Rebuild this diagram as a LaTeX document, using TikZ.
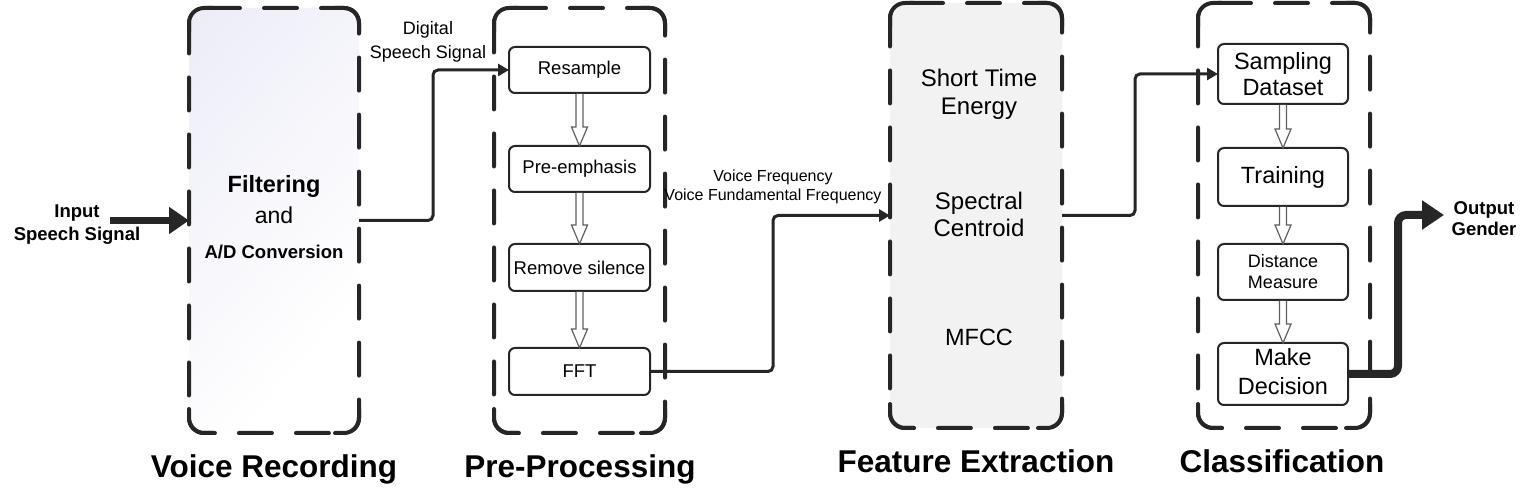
\documentclass[tikz,border=0pt]{standalone}
\usepackage{fontspec}
\setmainfont{Liberation Sans}
\usetikzlibrary{arrows.meta,calc}
\pgfdeclarelayer{background}
\pgfsetlayers{background,main}
\definecolor{ink}{HTML}{262626}
\definecolor{lav}{HTML}{E6E6F5}
\definecolor{featgray}{HTML}{F2F2F2}
\definecolor{hol}{HTML}{606060}
\newcommand{\fs}[1]{\fontsize{#1}{#1}\selectfont}
\newcommand{\hollowarrow}[2]{%
  \draw[hollow] ($(#1.south)+(-3.5,1)$) -- ($(#2.north)+(-3.5,-19)$) -- ($(#2.north)+(-8,-19)$) -- (#2.north) -- ($(#2.north)+(8,-19)$) -- ($(#2.north)+(3.5,-19)$) -- ($(#1.south)+(3.5,1)$);}
\newcommand{\solidcorners}[1]{%
  \draw[cornerpiece] ($(#1.north west)+(0,24)$) -- (#1.north west) -- ($(#1.north west)+(24,0)$);
  \draw[cornerpiece] ($(#1.north east)+(0,24)$) -- (#1.north east) -- ($(#1.north east)+(-24,0)$);
  \draw[cornerpiece] ($(#1.south west)+(0,-24)$) -- (#1.south west) -- ($(#1.south west)+(24,0)$);
  \draw[cornerpiece] ($(#1.south east)+(0,-24)$) -- (#1.south east) -- ($(#1.south east)+(-24,0)$);}
\begin{document}
\begin{tikzpicture}[x=1pt,y=-1pt,
  container/.style={draw=ink, line width=4pt, rounded corners=15pt, dash pattern=on 33pt off 24pt, dash phase=10pt, line cap=round, inner sep=0pt, outer sep=0pt},
  cornerpiece/.style={draw=ink, line width=4pt, rounded corners=15pt, line cap=round},
  stepbox/.style={draw=ink, line width=2pt, rounded corners=6pt, fill=white, inner sep=0pt, outer sep=0pt, align=center},
  hollow/.style={draw=hol, line width=1.2pt, fill=white, line join=miter},
  conn/.style={draw=ink, line width=3pt, rounded corners=5pt, -{Triangle[length=11pt,width=12pt]}},
  heading/.style={font=\bfseries\fs{31.5}, anchor=base},
]
\useasboundingbox (0,0) rectangle (1529,502);

% containers
\node[container, minimum width=170, minimum height=425] (vr) at (274,220.5) {};
\begin{pgfonlayer}{background}
  \begin{scope}
    \clip[rounded corners=15pt] (vr.north west) rectangle (vr.south east);
    \begin{scope}[transform canvas={rotate around={49.6:(vr.north west)}}]
      \shade[top color=lav, bottom color=white] ($(vr.north west)+(-500,-104)$) rectangle ($(vr.north west)+(500,320)$);
    \end{scope}
  \end{scope}
\end{pgfonlayer}
\node[container, minimum width=171, minimum height=425] (pp) at (579.5,220.5) {};
\node[container, fill=featgray, minimum width=172, minimum height=425] (fe) at (976,215.5) {};
\node[container, minimum width=172, minimum height=425] (cl) at (1284,215.5) {};
\solidcorners{vr}
\solidcorners{pp}
\solidcorners{fe}
\solidcorners{cl}

% voice recording text
\node[font=\bfseries\fs{23.5}] (vr1) at (274,186) {Filtering};
\node[font=\fs{23}] (vr2) at (274,215) {and};
\node[font=\bfseries\fs{18.5}] (vr3) at (274,252) {A/D Conversion};

% pre-processing steps
\node[stepbox, minimum width=141, minimum height=46, font=\fs{18.5}] (res) at (579.5,70) {Resample};
\node[stepbox, minimum width=141, minimum height=46, font=\fs{18.5}] (pre) at (579.5,169) {Pre-emphasis};
\node[stepbox, minimum width=141, minimum height=47, font=\fs{18.5}] (rem) at (579.5,267.5) {Remove silence};
\node[stepbox, minimum width=141, minimum height=47, font=\fs{18.5}] (fft) at (579.5,371.5) {FFT};
\hollowarrow{res}{pre}
\hollowarrow{pre}{rem}
\hollowarrow{rem}{fft}

% feature extraction text
\node[align=center, font=\fs{24}] (fe1) at (979,94) {Short Time\\[4pt]Energy};
\node[align=center, font=\fs{24}] (fe2) at (979,214.5) {Spectral\\[3pt]Centroid};
\node[font=\fs{23.5}] (fe3) at (979,337) {MFCC};

% classification steps
\node[stepbox, minimum width=130, minimum height=60, font=\fs{23.5}] (samp) at (1283,74) {Sampling\\[2pt]Dataset};
\node[stepbox, minimum width=130, minimum height=58, font=\fs{23.5}] (train) at (1283,177) {Training};
\node[stepbox, minimum width=130, minimum height=56, font=\fs{18}] (dist) at (1283,272) {Distance\\[3pt]Measure};
\node[stepbox, minimum width=130, minimum height=62] (make) at (1283,374) {};
\node[align=center, font=\fs{23.5}] (makelab) at (1283,371.5) {Make\\[5pt]Decision};
\hollowarrow{samp}{train}
\hollowarrow{train}{dist}
\hollowarrow{dist}{make}

% labels
\node[align=center, font=\bfseries\fs{18.5}] (inlab) at (77,224.5) {Input\\[4pt]Speech Signal};
\node[align=center, font=\fs{18}] (diglab) at (428,41.5) {Digital\\[6pt]Speech Signal};
\node[align=center, font=\fs{16}] (vflab) at (773,186.5) {Voice Frequency\\[3pt]Voice Fundamental Frequency};
\node[align=center, font=\bfseries\fs{18.5}] (outlab) at (1484,218.5) {Output\\[2pt]Gender};

% connectors
\coordinate (inStart) at (110,220.5);
\draw[ink, line width=7pt, -{Triangle[length=20pt,width=26pt]}] (inStart) -- (vr.west);
\draw[conn] (vr.east) -| (433,70) -- (res.west);
\draw[conn] (fft.east) -| (773,215.5) -- (fe.west);
\draw[conn] (fe.east) -| (1135,74) -- (samp.west);
\coordinate (outEnd) at (1444,215);
\draw[ink, line width=8pt, rounded corners=8pt, -{Triangle[length=22pt,width=28pt]}] (make.east) -| (1398,215) -- (outEnd);

% headings
\node[heading] (h1) at (274,477) {Voice Recording};
\node[heading] (h2) at (580,477) {Pre-Processing};
\node[heading] (h3) at (976,472) {Feature Extraction};
\node[heading] (h4) at (1282,472) {Classification};
\end{tikzpicture}
\end{document}
